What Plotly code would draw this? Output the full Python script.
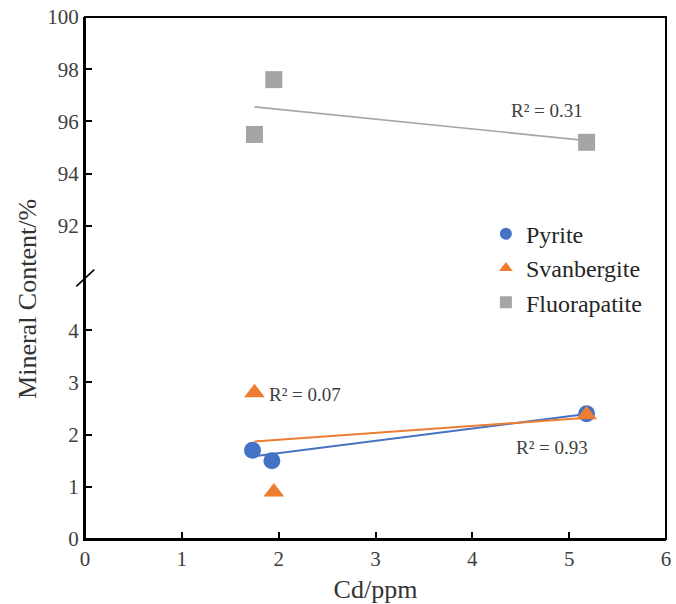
import numpy as np
import plotly.graph_objects as go

# ---- data ----
pyrite_x = [1.73, 1.93, 5.18]
pyrite_y = [1.70, 1.50, 2.40]
svan_x = [1.75, 1.95, 5.18]
svan_y = [2.80, 0.90, 2.38]
fluor_x = [1.75, 1.95, 5.18]
fluor_y = [95.5, 97.6, 95.2]

x_ticks = [0, 1, 2, 3, 4, 5, 6]
y_low_ticks = [0, 1, 2, 3, 4]
y_high_ticks = [92, 94, 96, 98, 100]

r2_labels = ["R\u00b2 = 0.93", "R\u00b2 = 0.07", "R\u00b2 = 0.31"]

C_BLUE = "#4472C4"
C_ORANGE = "#ED7D31"
C_GRAY = "#A5A5A5"
FONT = "Liberation Serif"
TXT = "#404040"


def fit_line(x, y):
    k, b = np.polyfit(x, y, 1)
    xs = np.array([min(x), max(x)])
    return xs, k * xs + b


fig = go.Figure()

for x, y, c, ya, w in [
    (pyrite_x, pyrite_y, C_BLUE, "y", 2),
    (svan_x, svan_y, C_ORANGE, "y", 2),
    (fluor_x, fluor_y, "#A6A6A6", "y2", 1.6),
]:
    xs, ys = fit_line(x, y)
    fig.add_trace(go.Scatter(x=xs, y=ys, mode="lines", yaxis=ya,
                             line=dict(color=c, width=w), showlegend=False,
                             hoverinfo="skip"))

fig.add_trace(go.Scatter(x=pyrite_x, y=pyrite_y, mode="markers", name="Pyrite",
                         yaxis="y", marker=dict(symbol="circle", size=17, color=C_BLUE)))
fig.add_trace(go.Scatter(x=svan_x, y=svan_y, mode="markers", name="Svanbergite",
                         yaxis="y", marker=dict(symbol="triangle-up", size=18, color=C_ORANGE)))
fig.add_trace(go.Scatter(x=fluor_x, y=fluor_y, mode="markers", name="Fluorapatite",
                         yaxis="y2", marker=dict(symbol="square", size=17, color=C_GRAY)))

ann_pos = [(4.82, 1.75, "y"), (2.27, 2.76, "y"), (4.77, 96.42, "y2")]
for (ax_, ay_, yr), t in zip(ann_pos, r2_labels):
    fig.add_annotation(x=ax_, y=ay_, xref="x", yref=yr, text=t, showarrow=False,
                       font=dict(family=FONT, size=19, color=TXT))

fig.add_annotation(x=-0.098, y=0.46, xref="paper", yref="paper",
                   xanchor="center", yanchor="middle",
                   text="Mineral Content/%", textangle=-90, showarrow=False,
                   font=dict(family=FONT, size=26, color="#333333"))

axis_common = dict(showgrid=False, zeroline=False, showline=True, linecolor="black",
                   linewidth=2, ticks="inside", ticklen=7, tickwidth=1.6,
                   tickcolor="black", ticklabeloverflow="allow",
                   tickfont=dict(family=FONT, size=21, color=TXT))

fig.update_layout(
    width=676, height=604,
    font=dict(family=FONT, color=TXT),
    margin=dict(l=85, r=5, t=15, b=63),
    plot_bgcolor="white", paper_bgcolor="white",
    xaxis=dict(range=[0, 6], tickvals=x_ticks, anchor="y",
               title=dict(text="Cd/ppm", font=dict(family=FONT, size=26, color="#333333"),
                          standoff=10),
               **axis_common),
    yaxis=dict(range=[0, 5], domain=[0, 0.5], tickvals=y_low_ticks, anchor="x",
               **axis_common),
    yaxis2=dict(range=[90, 100], domain=[0.5, 1], tickvals=y_high_ticks, anchor="x",
                **axis_common),
    legend=dict(x=0.69, y=0.627, xanchor="left", yanchor="top",
                bgcolor="rgba(0,0,0,0)", font=dict(family=FONT, size=24, color="#262626"),
                itemsizing="constant", tracegroupgap=0),
    shapes=[
        dict(type="rect", xref="paper", yref="paper", x0=0, x1=1, y0=0, y1=1,
             line=dict(color="black", width=2), layer="above"),
        dict(type="line", xref="paper", yref="paper", x0=-0.015, x1=0.016,
             y0=0.5 - 0.016, y1=0.5 + 0.016, line=dict(color="black", width=1.6)),
    ],
)

fig.write_html("out.html")
